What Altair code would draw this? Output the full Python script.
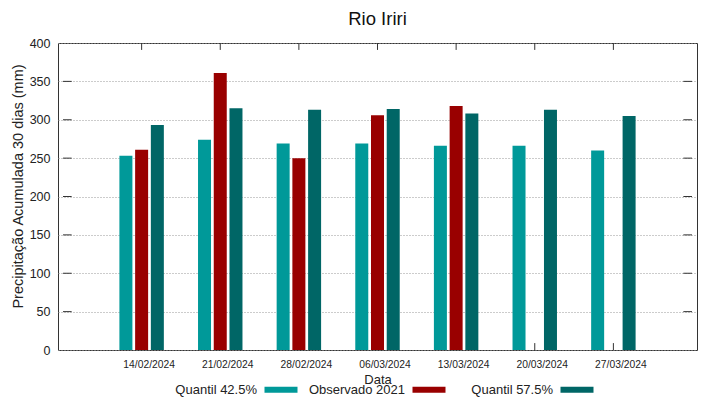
import altair as alt
import pandas as pd

dates = ["14/02/2024", "21/02/2024", "28/02/2024", "06/03/2024",
         "13/03/2024", "20/03/2024", "27/03/2024"]
q425 = [253, 274, 269, 269, 266, 266, 260]
obs2021 = [261, 361, 250, 306, 318, None, None]
q575 = [293, 315, 313, 314, 308, 313, 305]

series_names = ["Quantil 42.5%", "Observado 2021", "Quantil 57.5%"]
series_vals = [q425, obs2021, q575]
colors = ["#009999", "#990000", "#006666"]
offsets = [-0.2, 0.0, 0.2]

rows = []
for name, vals, off in zip(series_names, series_vals, offsets):
    for i, v in enumerate(vals):
        if v is not None:
            rows.append({"serie": name, "pos": i + 1 + off, "valor": v})
df = pd.DataFrame(rows)

label_expr = "[''," + ",".join("'" + d + "'" for d in dates) + ",''][datum.value]"

xscale = alt.Scale(domain=[0, 8], nice=False, zero=False)
yscale = alt.Scale(domain=[0, 400], nice=False)

FONT = "Liberation Sans"
XTITLE = "Data"
YTITLE = "Precipitação Acumulada 30 dias (mm)"

xaxis = alt.Axis(values=list(range(1, 8)), labelExpr=label_expr,
                 grid=False, ticks=False, domain=False, tickOffset=7,
                 labelFontSize=10.3, labelPadding=9,
                 titleFontSize=13, titleFontWeight="normal",
                 titlePadding=4, labelColor="#222", titleColor="#222")
yaxis = alt.Axis(values=list(range(0, 401, 50)), grid=True,
                 gridDash=[1, 2], gridColor="#999", gridWidth=1,
                 ticks=False, domain=False, labelFontSize=12.5,
                 labelPadding=8, titleFontSize=14.5, titleY=143,
                 titleFontWeight="normal", titlePadding=4,
                 labelColor="#222", titleColor="#222")

# inward tick marks on the frame (drawn under the bars)
tick_len_y = 9
tick_len_x = 0.11
xt = pd.DataFrame({"t": list(range(1, 8))})
xt["b0"], xt["b1"] = 0, tick_len_y
xt["t0"], xt["t1"] = 400, 400 - tick_len_y
yt = pd.DataFrame({"v": list(range(50, 400, 50))})
yt["l0"], yt["l1"] = 0, tick_len_x
yt["r0"], yt["r1"] = 8, 8 - tick_len_x

X = lambda f: alt.X(f, scale=xscale, axis=xaxis, title=XTITLE)
Y = lambda f: alt.Y(f, scale=yscale, axis=yaxis, title=YTITLE)

bottom_ticks = alt.Chart(xt).mark_rule(color="#333").encode(
    x=X("t:Q"), y=Y("b0:Q"), y2="b1:Q")
top_ticks = alt.Chart(xt).mark_rule(color="#333").encode(
    x=X("t:Q"), y=Y("t0:Q"), y2="t1:Q")
left_ticks = alt.Chart(yt).mark_rule(color="#333").encode(
    y=Y("v:Q"), x=X("l0:Q"), x2="l1:Q")
right_ticks = alt.Chart(yt).mark_rule(color="#333").encode(
    y=Y("v:Q"), x=X("r0:Q"), x2="r1:Q")

bars = alt.Chart(df).mark_bar(size=13).encode(
    x=X("pos:Q"),
    y=Y("valor:Q"),
    color=alt.Color("serie:N",
                    scale=alt.Scale(domain=series_names, range=colors),
                    legend=alt.Legend(
                        title=None, orient="none", direction="horizontal",
                        legendX=186, legendY=340, gridAlign="all",
                        symbolType="M2.333,-0.5H7.833V0.5H2.333Z",
                        symbolSize=144, symbolStrokeWidth=0,
                        labelAlign="right", labelOffset=0,
                        labelFontSize=13, labelColor="#222",
                        columnPadding=10, labelLimit=200)),
)

chart = alt.layer(bottom_ticks, top_ticks, left_ticks, right_ticks, bars).properties(
    width=639, height=307,
    title=alt.Title("Rio Iriri", fontSize=18.5, font=FONT, fontWeight="normal",
                    color="#111", offset=9),
    autosize=alt.AutoSizeParams(type="none"),
    padding={"left": 50, "top": 35, "right": 14, "bottom": 48},
).configure(font=FONT).configure_view(
    stroke="#333", strokeWidth=1
)

chart.save("out.html", embed_options={"renderer": "svg", "actions": False})
